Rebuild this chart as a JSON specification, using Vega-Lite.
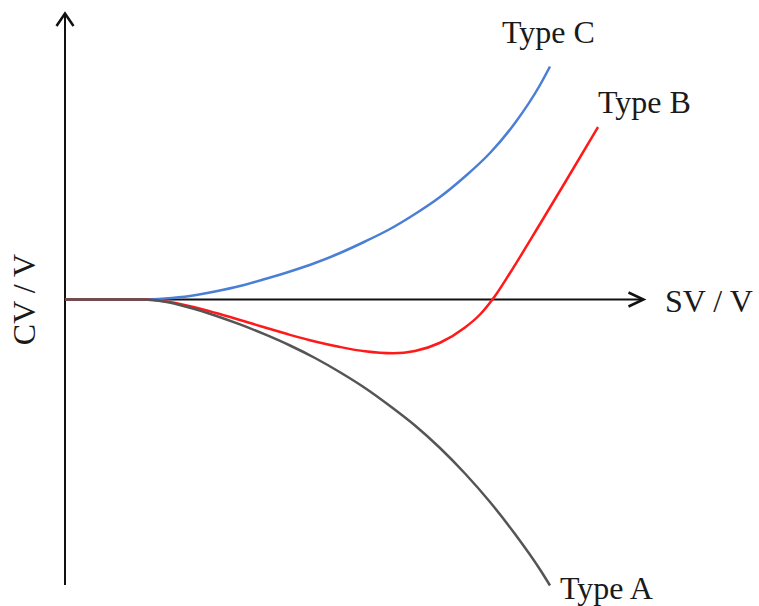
{
  "$schema": "https://vega.github.io/schema/vega-lite/v6.json",
  "width": 759,
  "height": 606,
  "autosize": {"type": "fit", "contains": "padding"},
  "padding": 0,
  "background": "white",
  "config": {"view": {"stroke": null}},
  "datasets": {
    "axes": [
      {"id": "y", "sv": 0, "cv": -5.71, "sv2": 0, "cv2": 5.71},
      {"id": "x", "sv": 0, "cv": 0, "sv2": 11.56, "cv2": 0}
    ],
    "heads": [
      {"id": "y", "ord": 1, "sv": -0.17, "cv": 5.47},
      {"id": "y", "ord": 2, "sv": 0, "cv": 5.72},
      {"id": "y", "ord": 3, "sv": 0.17, "cv": 5.47},
      {"id": "x", "ord": 1, "sv": 11.27, "cv": 0.14},
      {"id": "x", "ord": 2, "sv": 11.57, "cv": 0},
      {"id": "x", "ord": 3, "sv": 11.27, "cv": -0.14}
    ],
    "curves": [
      {"type": "Type C", "sv": 0, "cv": 0},
      {"type": "Type C", "sv": 0.9, "cv": 0},
      {"type": "Type C", "sv": 1.56, "cv": 0},
      {"type": "Type C", "sv": 2.0, "cv": 0.02},
      {"type": "Type C", "sv": 2.5, "cv": 0.07},
      {"type": "Type C", "sv": 3.0, "cv": 0.16},
      {"type": "Type C", "sv": 3.5, "cv": 0.27},
      {"type": "Type C", "sv": 4.0, "cv": 0.41},
      {"type": "Type C", "sv": 4.5, "cv": 0.56},
      {"type": "Type C", "sv": 5.0, "cv": 0.73},
      {"type": "Type C", "sv": 5.5, "cv": 0.93},
      {"type": "Type C", "sv": 6.0, "cv": 1.16},
      {"type": "Type C", "sv": 6.5, "cv": 1.41},
      {"type": "Type C", "sv": 7.0, "cv": 1.71},
      {"type": "Type C", "sv": 7.5, "cv": 2.05},
      {"type": "Type C", "sv": 8.0, "cv": 2.46},
      {"type": "Type C", "sv": 8.5, "cv": 2.93},
      {"type": "Type C", "sv": 9.0, "cv": 3.53},
      {"type": "Type C", "sv": 9.5, "cv": 4.29},
      {"type": "Type C", "sv": 9.7, "cv": 4.66},
      {"type": "Type B", "sv": 0, "cv": 0},
      {"type": "Type B", "sv": 0.9, "cv": 0},
      {"type": "Type B", "sv": 1.56, "cv": 0},
      {"type": "Type B", "sv": 2.0, "cv": -0.036},
      {"type": "Type B", "sv": 2.5, "cv": -0.135},
      {"type": "Type B", "sv": 3.0, "cv": -0.265},
      {"type": "Type B", "sv": 3.5, "cv": -0.41},
      {"type": "Type B", "sv": 4.0, "cv": -0.56},
      {"type": "Type B", "sv": 4.5, "cv": -0.707},
      {"type": "Type B", "sv": 5.0, "cv": -0.84},
      {"type": "Type B", "sv": 5.5, "cv": -0.95},
      {"type": "Type B", "sv": 6.0, "cv": -1.037},
      {"type": "Type B", "sv": 6.56, "cv": -1.077},
      {"type": "Type B", "sv": 7.0, "cv": -1.03},
      {"type": "Type B", "sv": 7.5, "cv": -0.865},
      {"type": "Type B", "sv": 8.0, "cv": -0.56},
      {"type": "Type B", "sv": 8.3, "cv": -0.3},
      {"type": "Type B", "sv": 8.6, "cv": 0.07},
      {"type": "Type B", "sv": 8.9, "cv": 0.53},
      {"type": "Type B", "sv": 9.5, "cv": 1.51},
      {"type": "Type B", "sv": 10.0, "cv": 2.34},
      {"type": "Type B", "sv": 10.66, "cv": 3.45},
      {"type": "Type A", "sv": 0, "cv": 0},
      {"type": "Type A", "sv": 0.9, "cv": 0},
      {"type": "Type A", "sv": 1.56, "cv": 0},
      {"type": "Type A", "sv": 2.0, "cv": -0.044},
      {"type": "Type A", "sv": 2.5, "cv": -0.164},
      {"type": "Type A", "sv": 3.0, "cv": -0.319},
      {"type": "Type A", "sv": 3.5, "cv": -0.499},
      {"type": "Type A", "sv": 4.0, "cv": -0.699},
      {"type": "Type A", "sv": 4.5, "cv": -0.92},
      {"type": "Type A", "sv": 5.0, "cv": -1.17},
      {"type": "Type A", "sv": 5.5, "cv": -1.455},
      {"type": "Type A", "sv": 6.0, "cv": -1.77},
      {"type": "Type A", "sv": 6.5, "cv": -2.13},
      {"type": "Type A", "sv": 7.0, "cv": -2.52},
      {"type": "Type A", "sv": 7.5, "cv": -2.97},
      {"type": "Type A", "sv": 8.0, "cv": -3.48},
      {"type": "Type A", "sv": 8.5, "cv": -4.05},
      {"type": "Type A", "sv": 9.0, "cv": -4.69},
      {"type": "Type A", "sv": 9.5, "cv": -5.4},
      {"type": "Type A", "sv": 9.7, "cv": -5.72}
    ],
    "labels": [
      {"label": "Type C", "sv": 8.74, "cv": 5.13},
      {"label": "Type B", "sv": 10.66, "cv": 3.73},
      {"label": "Type A", "sv": 9.9, "cv": -5.99},
      {"label": "SV / V", "sv": 12.0, "cv": -0.25}
    ],
    "ylabel": [
      {"label": "CV / V", "sv": -0.8, "cv": 0}
    ]
  },
  "encoding": {
    "x": {"field": "sv", "type": "quantitative", "scale": {"domain": [-1.3, 13.88], "nice": false, "zero": false}, "axis": null},
    "y": {"field": "cv", "type": "quantitative", "scale": {"domain": [-6.13, 5.99], "nice": false, "zero": false}, "axis": null}
  },
  "layer": [
    {
      "data": {"name": "axes"},
      "mark": {"type": "rule", "color": "#111111", "strokeWidth": 2},
      "encoding": {
        "x2": {"field": "sv2"},
        "y2": {"field": "cv2"}
      }
    },
    {
      "data": {"name": "heads"},
      "mark": {"type": "line", "color": "#111111", "strokeWidth": 2.5, "strokeJoin": "miter"},
      "encoding": {
        "detail": {"field": "id"},
        "order": {"field": "ord", "type": "quantitative"}
      }
    },
    {
      "data": {"name": "curves"},
      "mark": {"type": "line", "interpolate": "monotone", "strokeWidth": 2.5},
      "encoding": {
        "color": {"field": "type", "type": "nominal", "scale": {"domain": ["Type A", "Type B", "Type C"], "range": ["#555555", "#ff1a1a", "#4a7fd6"]}, "legend": null}
      }
    },
    {
      "data": {"name": "labels"},
      "mark": {"type": "text", "align": "left", "baseline": "alphabetic", "font": "Liberation Serif", "fontSize": 32, "color": "#1a1a1a"},
      "encoding": {"text": {"field": "label"}}
    },
    {
      "data": {"name": "ylabel"},
      "mark": {"type": "text", "align": "center", "baseline": "middle", "angle": 270, "font": "Liberation Serif", "fontSize": 32, "color": "#1a1a1a"},
      "encoding": {"text": {"field": "label"}}
    }
  ]
}
